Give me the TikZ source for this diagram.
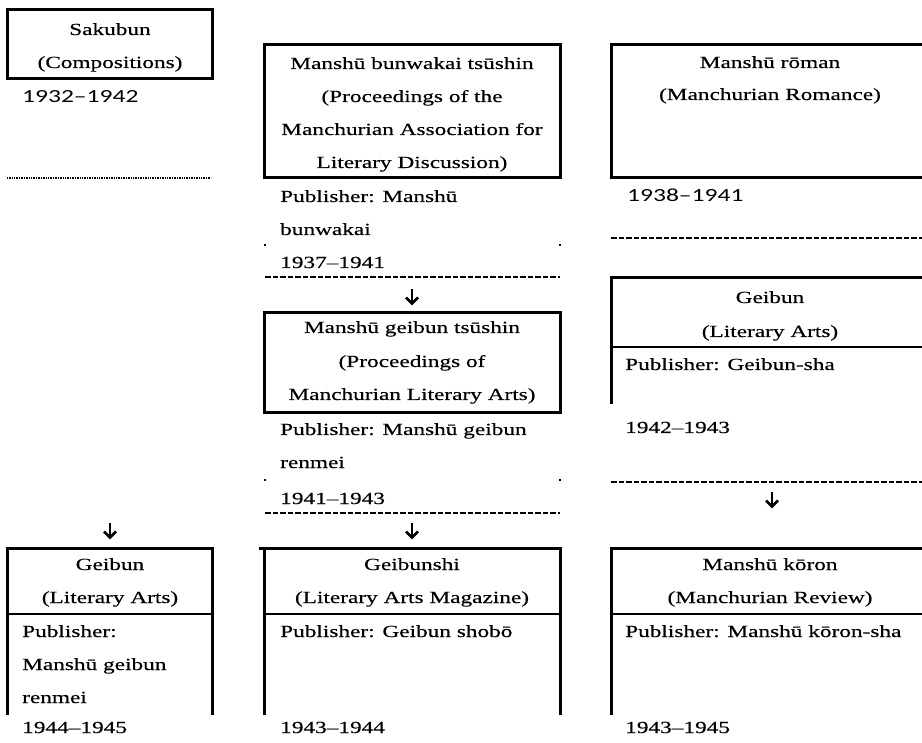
\documentclass[tikz,border=0pt]{standalone}
\usepackage{fontspec}
\setmainfont{Liberation Serif}[FakeStretch=1.37,FakeBold=0.35]
\newfontfamily\yearfont{Carlito}[FakeStretch=1.38]
\begin{document}
\begin{tikzpicture}[x=1pt,y=-1pt,
  every node/.style={inner sep=0pt, font=\fontsize{17}{20}\selectfont},
  ttl/.style={anchor=base},
  lft/.style={anchor=base west},
  yr/.style={anchor=base west, font=\fontsize{18.5}{22}\selectfont\yearfont},
  boxline/.style={line width=3pt, line cap=rect},
  divline/.style={line width=2pt},
  sepline/.style={line width=1.3pt, dash pattern=on 5.5pt off 2pt},
  dotline/.style={line width=1.5pt, dash pattern=on 1pt off 0.7pt},
  tickdot/.style={fill=black},
  downarr/.pic={\draw[line width=2.7pt] (0,-8) -- (0,6);
                \draw[line width=2.7pt, line join=miter] (-6,0.5) -- (0,6.5) -- (6,0.5);}
]
\useasboundingbox (0,0) rectangle (922,743);

% ---------- column 1 ----------
\draw[boxline] (7,10) rectangle (212,79);
\node[ttl] (sak1) at (110,35) {Sakubun};
\node[ttl] (sak2) at (110,68) {(Compositions)};
\node[yr] (saky) at (22,103) {1932–1942};
\draw[dotline] (7,178) -- (211,178);

\coordinate (arr1) at (110,531);
\pic at (arr1) {downarr};

\draw[boxline] (7,713) -- (7,548) -- (212,548) -- (212,713);
\draw[divline] (7,614) -- (212,614);
\node[ttl] (gb1) at (110,570) {Geibun};
\node[ttl] (gb2) at (110,603) {(Literary Arts)};
\node[lft] (gb3) at (22,637) {Publisher:};
\node[lft] (gb4) at (22,670) {Manshū geibun};
\node[lft] (gb5) at (22,703) {renmei};
\node[lft] (gby) at (22,733) {1944–1945};

% ---------- column 2 ----------
\draw[boxline] (264,45) rectangle (560,178);
\node[ttl] (mb1) at (412,69) {Manshū bunwakai tsūshin};
\node[ttl] (mb2) at (412,102) {(Proceedings of the};
\node[ttl] (mb3) at (412,135) {Manchurian Association for};
\node[ttl] (mb4) at (412,168) {Literary Discussion)};
\node[lft] (mb5) at (280,202) {Publisher: Manshū};
\node[lft] (mb6) at (280,235) {bunwakai};
\node[lft] (mby) at (280,268) {1937–1941};
\fill[tickdot] (264,244) rectangle (266,246);
\fill[tickdot] (559,244) rectangle (561,246);
\draw[sepline] (265,277) -- (560,277);

\coordinate (arr2) at (412,297);
\pic at (arr2) {downarr};

\draw[boxline] (264,313) rectangle (560,413);
\node[ttl] (mg1) at (412,333) {Manshū geibun tsūshin};
\node[ttl] (mg2) at (412,367) {(Proceedings of};
\node[ttl] (mg3) at (412,400) {Manchurian Literary Arts)};
\node[lft] (mg4) at (280,435) {Publisher: Manshū geibun};
\node[lft] (mg5) at (280,468) {renmei};
\node[lft] (mgy) at (280,504) {1941–1943};
\fill[tickdot] (264,479) rectangle (266,481);
\fill[tickdot] (559,479) rectangle (561,481);
\draw[sepline] (265,513) -- (560,513);

\coordinate (arr3) at (412,531);
\pic at (arr3) {downarr};

\draw[boxline] (264,713) -- (264,548) -- (560,548) -- (560,713);
\draw[line width=3pt] (259,548) -- (264,548);
\draw[divline] (264,614) -- (560,614);
\node[ttl] (gs1) at (412,570) {Geibunshi};
\node[ttl] (gs2) at (412,603) {(Literary Arts Magazine)};
\node[lft] (gs3) at (280,637) {Publisher: Geibun shobō};
\node[lft] (gsy) at (280,733) {1943–1944};

% ---------- column 3 ----------
\draw[boxline] (926,45) -- (611,45) -- (611,178) -- (926,178);
\node[ttl] (mr1) at (770,68) {Manshū rōman};
\node[ttl] (mr2) at (770,100) {(Manchurian Romance)};
\node[yr] (mry) at (627,202) {1938–1941};
\draw[sepline] (611,238) -- (922,238);

\draw[boxline] (926,278) -- (611,278) -- (611,403);
\draw[divline] (611,347) -- (926,347);
\node[ttl] (ga1) at (770,303) {Geibun};
\node[ttl] (ga2) at (770,337) {(Literary Arts)};
\node[lft] (ga3) at (625,370) {Publisher: Geibun-sha};
\node[lft] (gay) at (625,433) {1942–1943};
\draw[sepline] (611,482) -- (922,482);

\coordinate (arr4) at (772,500);
\pic at (arr4) {downarr};

\draw[boxline] (611,713) -- (611,548) -- (926,548);
\draw[divline] (611,614) -- (926,614);
\node[ttl] (mk1) at (770,570) {Manshū kōron};
\node[ttl] (mk2) at (770,603) {(Manchurian Review)};
\node[lft] (mk3) at (625,637) {Publisher: Manshū kōron-sha};
\node[lft] (mky) at (625,733) {1943–1945};
\end{tikzpicture}
\end{document}
